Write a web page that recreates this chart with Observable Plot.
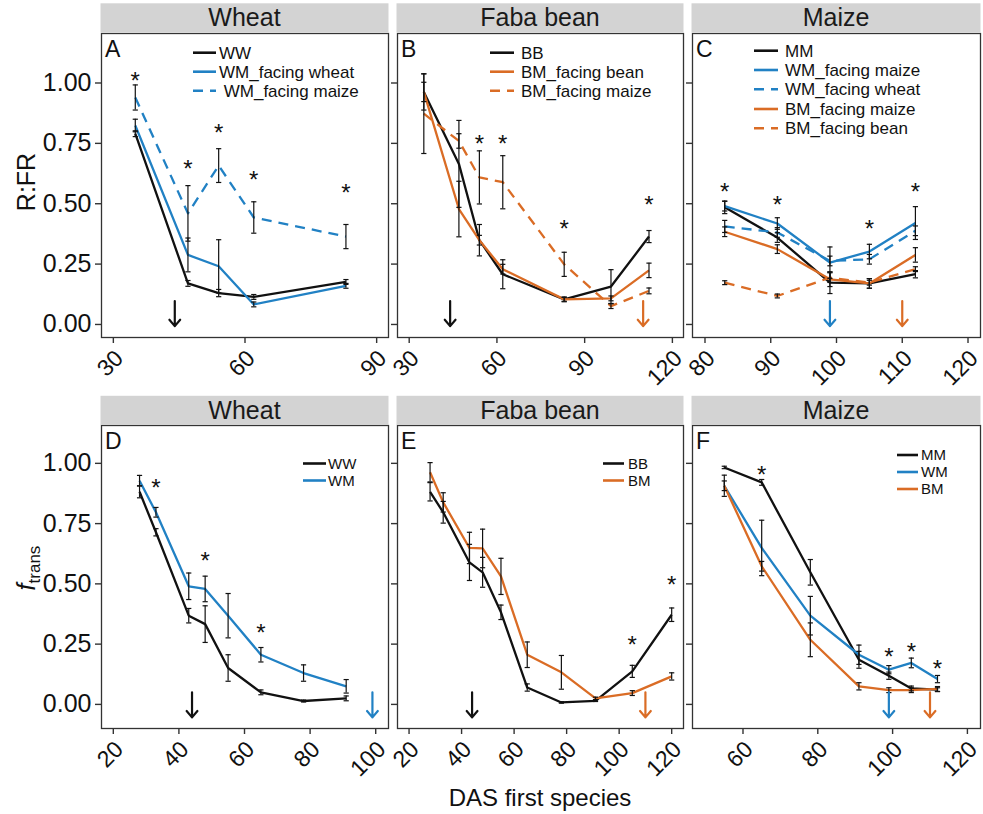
<!DOCTYPE html>
<html>
<head>
<meta charset="utf-8">
<script src="https://cdn.jsdelivr.net/npm/d3@7"></script>
<script src="https://cdn.jsdelivr.net/npm/@observablehq/plot@0.6"></script>
<style>
  body { margin: 0; background: #fff; font-family: "Liberation Sans", Arial, sans-serif; }
  #fig { position: relative; width: 983px; height: 814px; overflow: hidden; }
  #fig > svg { position: absolute; }
  #overlay { left: 0; top: 0; pointer-events: none; }
</style>
</head>
<body>
<div id="fig"></div>
<script>
// ---- colours -------------------------------------------------------------
const black = "#111111";
const blue = "#2181c4";
const orange = "#da6c25";

// ---- Wheat, R:FR -----------------------------------------------------------
const rfrWheatDays = [35, 47, 54, 62, 83];
const rfrWW = [0.790, 0.170, 0.130, 0.114, 0.176];
const rfrWWse = [0.012, 0.012, 0.015, 0.010, 0.010];
const rfrWMfacingWheat = [0.824, 0.288, 0.241, 0.083, 0.160];
const rfrWMfacingWheatSe = [0.026, 0.070, 0.110, 0.010, 0.010];
const rfrWMfacingMaize = [0.940, 0.460, 0.658, 0.443, 0.364];
const rfrWMfacingMaizeSe = [0.052, 0.115, 0.070, 0.065, 0.050];
const rfrWheatStarDays = [35, 47, 54, 62, 83];
const rfrWheatStarY = [1.03, 0.667, 0.817, 0.62, 0.568];

// ---- Faba bean, R:FR -------------------------------------------------------
const rfrBeanDays = [35, 47, 54, 62, 83, 99, 112];
const rfrBB = [0.963, 0.665, 0.349, 0.208, 0.104, 0.157, 0.364];
const rfrBBse = [0.075, 0.180, 0.020, 0.060, 0.010, 0.070, 0.025];
const rfrBMfacingBean = [0.963, 0.478, 0.349, 0.229, 0.104, 0.108, 0.224];
const rfrBMfacingBeanSe = [0.040, 0.115, 0.065, 0.020, 0.008, 0.010, 0.030];
const rfrBMfacingMaize = [0.873, 0.760, 0.609, 0.589, 0.249, 0.076, 0.139];
const rfrBMfacingMaizeSe = [0.165, 0.030, 0.110, 0.110, 0.050, 0.010, 0.012];
const rfrBeanStarDays = [54, 62, 83, 112];
const rfrBeanStarY = [0.769, 0.769, 0.418, 0.519];

// ---- Maize, R:FR -----------------------------------------------------------
const rfrMaizeDays = [83, 91, 99, 105, 112];
const rfrMM = [0.485, 0.360, 0.173, 0.170, 0.208];
const rfrMMse = [0.026, 0.020, 0.045, 0.020, 0.015];
const rfrWMfacingMaizeC = [0.490, 0.418, 0.256, 0.302, 0.420];
const rfrWMfacingMaizeCse = [0.020, 0.024, 0.065, 0.030, 0.068];
const rfrWMfacingWheatC = [0.406, 0.381, 0.263, 0.270, 0.388];
const rfrWMfacingWheatCse = [0.025, 0.020, 0.020, 0.020, 0.020];
const rfrBMfacingMaizeC = [0.384, 0.312, 0.187, 0.170, 0.288];
const rfrBMfacingMaizeCse = [0.020, 0.018, 0.030, 0.020, 0.030];
const rfrBMfacingBeanC = [0.173, 0.118, 0.194, 0.173, 0.229];
const rfrBMfacingBeanCse = [0.008, 0.008, 0.020, 0.010, 0.010];
const rfrMaizeStarDays = [83, 91, 105, 112];
const rfrMaizeStarY = [0.571, 0.519, 0.418, 0.571];

// ---- Wheat, f_trans --------------------------------------------------------
const ftWheatDays = [28, 33, 43, 48, 55, 65, 78, 91];
const ftWW = [0.882, 0.714, 0.368, 0.333, 0.151, 0.050, 0.014, 0.025];
const ftWWse = [0.025, 0.015, 0.030, 0.076, 0.055, 0.010, 0.004, 0.010];
const ftWM = [0.928, 0.797, 0.490, 0.479, 0.368, 0.206, 0.130, 0.075];
const ftWMse = [0.022, 0.020, 0.055, 0.053, 0.092, 0.030, 0.034, 0.028];
const ftWheatStarDays = [33, 48, 65];
const ftWheatStarY = [0.92, 0.62, 0.32];

// ---- Faba bean, f_trans ----------------------------------------------------
const ftBeanDays = [28, 33, 43, 48, 55, 65, 78, 91, 105, 120];
const ftBB = [0.882, 0.797, 0.589, 0.548, 0.382, 0.070, 0.008, 0.015, 0.137, 0.372];
const ftBBse = [0.038, 0.045, 0.075, 0.062, 0.030, 0.015, 0.003, 0.003, 0.025, 0.028];
const ftBM = [0.963, 0.838, 0.649, 0.647, 0.531, 0.206, 0.133, 0.025, 0.047, 0.116];
const ftBMse = [0.040, 0.040, 0.065, 0.080, 0.075, 0.053, 0.070, 0.005, 0.010, 0.015];
const ftBeanStarDays = [105, 120];
const ftBeanStarY = [0.268, 0.52];

// ---- Maize, f_trans --------------------------------------------------------
const ftMaizeDays = [55, 65, 78, 91, 99, 105, 112];
const ftMM = [0.983, 0.921, 0.548, 0.185, 0.119, 0.066, 0.061];
const ftMMse = [0.005, 0.012, 0.053, 0.035, 0.015, 0.010, 0.008];
const ftWMm = [0.907, 0.649, 0.368, 0.206, 0.144, 0.172, 0.105];
const ftWMmSe = [0.044, 0.115, 0.080, 0.040, 0.017, 0.020, 0.015];
const ftBMm = [0.907, 0.573, 0.268, 0.075, 0.059, 0.059, 0.064];
const ftBMmSe = [0.020, 0.020, 0.070, 0.015, 0.010, 0.010, 0.010];
const ftMaizeStarDays = [65, 99, 105, 112];
const ftMaizeStarY = [0.974, 0.219, 0.243, 0.172];

// ---- axis ticks ------------------------------------------------------------
const yTicks = [0, 0.25, 0.5, 0.75, 1];
const xTicksA = [30, 60, 90];
const xTicksB = [30, 60, 90, 120];
const xTicksC = [80, 90, 100, 110, 120];
const xTicksD = [20, 40, 60, 80, 100];
const xTicksE = [20, 40, 60, 80, 100, 120];
const xTicksF = [60, 80, 100, 120];

// ---- sowing arrows (day, colour) --------------------------------------------
const arrowsA = [{day: 44, color: black}];
const arrowsB = [{day: 44, color: black}, {day: 110, color: orange}];
const arrowsC = [{day: 99, color: blue}, {day: 110, color: orange}];
const arrowsD = [{day: 44, color: black}, {day: 99, color: blue}];
const arrowsE = [{day: 44, color: black}, {day: 110, color: orange}];
const arrowsF = [{day: 99, color: blue}, {day: 110, color: orange}];

const S = (name, days, values, se, color, dashed = false) => ({name, days, values, se, color, dashed});

const panels = [
  {letter: "A", strip: "Wheat", box: [101, 32.5, 388, 336.5], xDomain: [27.3, 92.7], yDomain: [-0.054, 1.205],
   xTicks: xTicksA, showY: true, arrows: arrowsA, arrowY: [0.097, -0.007],
   stars: {days: rfrWheatStarDays, y: rfrWheatStarY},
   series: [
     S("WW", rfrWheatDays, rfrWW, rfrWWse, black),
     S("WM_facing wheat", rfrWheatDays, rfrWMfacingWheat, rfrWMfacingWheatSe, blue),
     S(" WM_facing maize", rfrWheatDays, rfrWMfacingMaize, rfrWMfacingMaizeSe, blue, true)
   ],
   legend: {sx: 193, sw: 23, tx: 219, rows: [52.7, 71.7, 90.7], size: 17}},
  {letter: "B", strip: "Faba bean", box: [397, 32.5, 683, 336.5], xDomain: [26.0, 123.8], yDomain: [-0.054, 1.205],
   xTicks: xTicksB, showY: false, arrows: arrowsB, arrowY: [0.097, -0.007],
   stars: {days: rfrBeanStarDays, y: rfrBeanStarY},
   series: [
     S("BB", rfrBeanDays, rfrBB, rfrBBse, black),
     S("BM_facing bean", rfrBeanDays, rfrBMfacingBean, rfrBMfacingBeanSe, orange),
     S("BM_facing maize", rfrBeanDays, rfrBMfacingMaize, rfrBMfacingMaizeSe, orange, true)
   ],
   legend: {sx: 490, sw: 24, tx: 521, rows: [52.7, 71.7, 90.7], size: 17}},
  {letter: "C", strip: "Maize", box: [692, 32.5, 980, 336.5], xDomain: [78.1, 121.9], yDomain: [-0.054, 1.205],
   xTicks: xTicksC, showY: false, arrows: arrowsC, arrowY: [0.097, -0.007],
   stars: {days: rfrMaizeStarDays, y: rfrMaizeStarY},
   series: [
     S("MM", rfrMaizeDays, rfrMM, rfrMMse, black),
     S("WM_facing maize", rfrMaizeDays, rfrWMfacingMaizeC, rfrWMfacingMaizeCse, blue),
     S("WM_facing wheat", rfrMaizeDays, rfrWMfacingWheatC, rfrWMfacingWheatCse, blue, true),
     S("BM_facing maize", rfrMaizeDays, rfrBMfacingMaizeC, rfrBMfacingMaizeCse, orange),
     S("BM_facing bean", rfrMaizeDays, rfrBMfacingBeanC, rfrBMfacingBeanCse, orange, true)
   ],
   legend: {sx: 754, sw: 24, tx: 785, rows: [50.7, 70, 89.3, 109, 128.3], size: 17}},
  {letter: "D", strip: "Wheat", box: [101, 425, 388, 728], xDomain: [16.4, 103.9], yDomain: [-0.10, 1.157],
   xTicks: xTicksD, showY: true, arrows: arrowsD, arrowY: [0.05, -0.054],
   stars: {days: ftWheatStarDays, y: ftWheatStarY},
   series: [
     S("WW", ftWheatDays, ftWW, ftWWse, black),
     S("WM", ftWheatDays, ftWM, ftWMse, blue)
   ],
   legend: {sx: 303, sw: 23, tx: 328, rows: [463.5, 480.5], size: 15}},
  {letter: "E", strip: "Faba bean", box: [397, 425, 683, 728], xDomain: [15.6, 124.5], yDomain: [-0.10, 1.157],
   xTicks: xTicksE, showY: false, arrows: arrowsE, arrowY: [0.05, -0.054],
   stars: {days: ftBeanStarDays, y: ftBeanStarY},
   series: [
     S("BB", ftBeanDays, ftBB, ftBBse, black),
     S("BM", ftBeanDays, ftBM, ftBMse, orange)
   ],
   legend: {sx: 603, sw: 21, tx: 628, rows: [463.5, 480.5], size: 15}},
  {letter: "F", strip: "Maize", box: [692, 425, 980, 728], xDomain: [46.5, 123.5], yDomain: [-0.10, 1.157],
   xTicks: xTicksF, showY: false, arrows: arrowsF, arrowY: [0.05, -0.054],
   stars: {days: ftMaizeStarDays, y: ftMaizeStarY},
   series: [
     S("MM", ftMaizeDays, ftMM, ftMMse, black),
     S("WM", ftMaizeDays, ftWMm, ftWMmSe, blue),
     S("BM", ftMaizeDays, ftBMm, ftBMmSe, orange)
   ],
   legend: {sx: 897, sw: 21, tx: 921, rows: [455, 472, 489], size: 15}}
];

// horizontal cap drawn at each end of an error bar
const capSymbol = {
  draw(context, size) {
    const r = Math.sqrt(size / Math.PI);
    context.moveTo(-r, 0);
    context.lineTo(r, 0);
  }
};

const dash = "10,7";
const fig = document.getElementById("fig");

function seriesRows(s) {
  return s.days.map((d, i) => ({x: d, y: s.values[i], lo: s.values[i] - s.se[i], hi: s.values[i] + s.se[i]}));
}

function drawPanel(p) {
  const [x0, y0, x1, y1] = p.box;
  const m = 10;
  const marks = [];
  for (const s of p.series) {
    marks.push(Plot.line(seriesRows(s), {
      x: "x", y: "y", stroke: s.color, strokeWidth: 2.3,
      strokeLinecap: "butt", strokeLinejoin: "round",
      ...(s.dashed ? {strokeDasharray: dash} : {})
    }));
  }
  for (const s of p.series) {
    const rows = seriesRows(s);
    marks.push(
      Plot.ruleX(rows, {x: "x", y1: "lo", y2: "hi", stroke: black, strokeWidth: 1.2}),
      Plot.dot(rows, {x: "x", y: "lo", symbol: capSymbol, r: 2.6, stroke: black, fill: "none", strokeWidth: 1.2}),
      Plot.dot(rows, {x: "x", y: "hi", symbol: capSymbol, r: 2.6, stroke: black, fill: "none", strokeWidth: 1.2})
    );
  }
  const starRows = p.stars.days.map((d, i) => ({x: d, y: p.stars.y[i]}));
  marks.push(Plot.text(starRows, {x: "x", y: "y", text: () => "*", fontSize: 24, dy: 6, fill: black}));
  for (const a of p.arrows) {
    marks.push(Plot.arrow([a], {x1: "day", x2: "day", y1: () => p.arrowY[0], y2: () => p.arrowY[1],
      stroke: a.color, strokeWidth: 2.2, headLength: 8, headAngle: 80}));
  }
  marks.push(
    Plot.frame({stroke: "#333", strokeWidth: 1.3}),
    // tick marks
    Plot.axisX({ticks: p.xTicks, tickSize: 6, strokeWidth: 1.4, stroke: "#333", label: null, tickFormat: () => ""}),
    // rotated tick labels
    Plot.axisX({ticks: p.xTicks, tickSize: 0, tickPadding: 8, tickRotate: -45, fontSize: 23,
      dx: 6, dy: 9, fill: black, label: null, tickFormat: d3.format("d")}),
    Plot.axisY({ticks: yTicks, tickSize: 6, tickPadding: 4, fontSize: 25, strokeWidth: 1.4,
      stroke: "#333", fill: black, label: null,
      tickFormat: p.showY ? d3.format(".2f") : () => ""})
  );
  const chart = Plot.plot({
    width: (x1 - x0) + 2 * m,
    height: (y1 - y0) + 2 * m,
    marginLeft: m, marginRight: m, marginTop: m, marginBottom: m,
    x: {type: "linear", domain: p.xDomain, label: null},
    y: {type: "linear", domain: p.yDomain, label: null},
    style: {background: "transparent", overflow: "visible", fontFamily: "'Liberation Sans', Arial, sans-serif", color: black},
    marks
  });
  chart.style.left = (x0 - m) + "px";
  chart.style.top = (y0 - m) + "px";
  chart.style.maxWidth = "none";
  fig.appendChild(chart);
}

panels.forEach(drawPanel);

// ---- strips, panel letters, legends and axis titles -------------------------
const ov = d3.select(fig).append("svg").attr("id", "overlay")
  .attr("width", 983).attr("height", 814)
  .style("font-family", "'Liberation Sans', Arial, sans-serif");

for (const p of panels) {
  const [x0, y0, x1] = p.box;
  const sy = y0 - 29.2;
  ov.append("rect").attr("x", x0 - 0.5).attr("y", sy).attr("width", x1 - x0 + 1).attr("height", 29.2).attr("fill", "#d3d3d3");
  ov.append("text").attr("x", (x0 + x1) / 2).attr("y", sy + 23).attr("text-anchor", "middle")
    .attr("font-size", 25).attr("fill", "#1a1a1a").text(p.strip);
  ov.append("text").attr("x", x0 + 4).attr("y", y0 + 24).attr("font-size", 23).attr("fill", black).text(p.letter);
  const lg = p.legend;
  p.series.forEach((s, i) => {
    const y = lg.rows[i];
    ov.append("line").attr("x1", lg.sx).attr("x2", lg.sx + lg.sw).attr("y1", y).attr("y2", y)
      .attr("stroke", s.color).attr("stroke-width", 2.6).attr("stroke-dasharray", s.dashed ? dash : null);
    ov.append("text").attr("x", lg.tx).attr("y", y + lg.size * 0.36).attr("font-size", lg.size).attr("fill", black)
      .attr("xml:space", "preserve").style("white-space", "pre").text(s.name);
  });
}

ov.append("text").attr("transform", "translate(35,182) rotate(-90)").attr("text-anchor", "middle")
  .attr("font-size", 25).attr("fill", black).text("R:FR");
const ft = ov.append("text").attr("transform", "translate(35,568) rotate(-90)").attr("text-anchor", "middle")
  .attr("font-size", 25).attr("fill", black);
ft.append("tspan").attr("font-style", "italic").text("f");
ft.append("tspan").attr("font-size", 17).attr("dy", 5).text("trans");

ov.append("text").attr("x", 540).attr("y", 806).attr("text-anchor", "middle")
  .attr("font-size", 24).attr("fill", black).text("DAS first species");
</script>
</body>
</html>
